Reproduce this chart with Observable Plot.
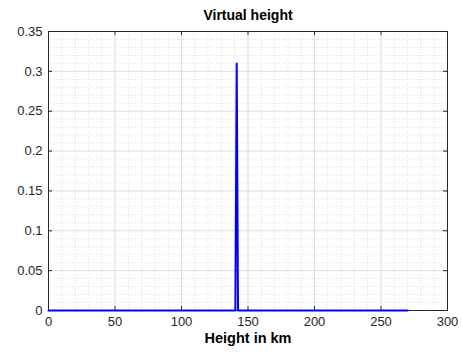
<!DOCTYPE html>
<html>
<head>
<meta charset="utf-8">
<script src="https://cdn.jsdelivr.net/npm/d3@7"></script>
<script src="https://cdn.jsdelivr.net/npm/@observablehq/plot@0.6"></script>
<style>
  html, body { margin: 0; padding: 0; background: #fff; }
  #chart svg { display: block; font-family: "Liberation Sans", Arial, Helvetica, sans-serif; }
</style>
</head>
<body>
<div id="chart"></div>
<script>
// Virtual height profile (km vs. amplitude)
const heightKm = [0, 140.5, 141.5, 142.5, 270];
const amplitude = [0, 0, 0.31, 0, 0];

const xTicks = [0, 50, 100, 150, 200, 250, 300];
const yTicks = [0, 0.05, 0.1, 0.15, 0.2, 0.25, 0.3, 0.35];
const xTickLabels = ["0", "50", "100", "150", "200", "250", "300"];
const yTickLabels = ["0", "0.05", "0.1", "0.15", "0.2", "0.25", "0.3", "0.35"];

const titleText = "Virtual height";
const xLabelText = "Height in km";

const data = heightKm.map((h, i) => ({h, a: amplitude[i]}));

const xMinor = d3.range(0, 301, 10).filter(v => v % 50 !== 0);
const yMinor = d3.range(0, 36).map(v => v / 100).filter((v, i) => i % 5 !== 0);

const axisColor = "#262626";
const tickLen = 4;

const chart = Plot.plot({
  width: 462,
  height: 360,
  marginLeft: 48,
  marginRight: 15,
  marginTop: 31,
  marginBottom: 50,
  style: {fontSize: "13px", color: axisColor, background: "#fff"},
  x: {domain: [0, 300]},
  y: {domain: [0, 0.35]},
  marks: [
    // minor grid (dotted)
    Plot.ruleX(xMinor, {stroke: "#dcdcdc", strokeDasharray: "1,2", strokeWidth: 1}),
    Plot.ruleY(yMinor, {stroke: "#dcdcdc", strokeDasharray: "1,2", strokeWidth: 1}),
    // major grid
    Plot.ruleX(xTicks, {stroke: "#dedede", strokeWidth: 1}),
    Plot.ruleY(yTicks, {stroke: "#dedede", strokeWidth: 1}),
    // box
    Plot.frame({stroke: axisColor, strokeWidth: 1}),
    // tick labels
    Plot.axisX({ticks: xTicks, tickSize: 0, tickPadding: 6, tickFormat: d => xTickLabels[xTicks.indexOf(d)], fontSize: 13, label: null}),
    Plot.axisY({ticks: yTicks, tickSize: 0, tickPadding: 6, tickFormat: d => yTickLabels[yTicks.indexOf(d)], fontSize: 13, label: null}),
    // inward tick marks on all four sides
    Plot.ruleX(xTicks, {y1: 0, y2: 0.35 * tickLen / 279, stroke: axisColor}),
    Plot.ruleX(xTicks, {y1: 0.35 - 0.35 * tickLen / 279, y2: 0.35, stroke: axisColor}),
    Plot.ruleY(yTicks, {x1: 0, x2: 300 * tickLen / 399, stroke: axisColor}),
    Plot.ruleY(yTicks, {x1: 300 - 300 * tickLen / 399, x2: 300, stroke: axisColor}),
    // data, drawn over the axes box
    Plot.line(data, {x: "h", y: "a", stroke: "#0000ff", strokeWidth: 2}),
    // title and axis label
    Plot.text([titleText], {frameAnchor: "top", lineAnchor: "middle", dy: -16, fontWeight: "bold", fontSize: 14, fill: "#000"}),
    Plot.text([xLabelText], {frameAnchor: "bottom", lineAnchor: "middle", dy: 28, fontWeight: "bold", fontSize: 14.5, fill: "#000"})
  ]
});

document.getElementById("chart").append(chart);
</script>
</body>
</html>
